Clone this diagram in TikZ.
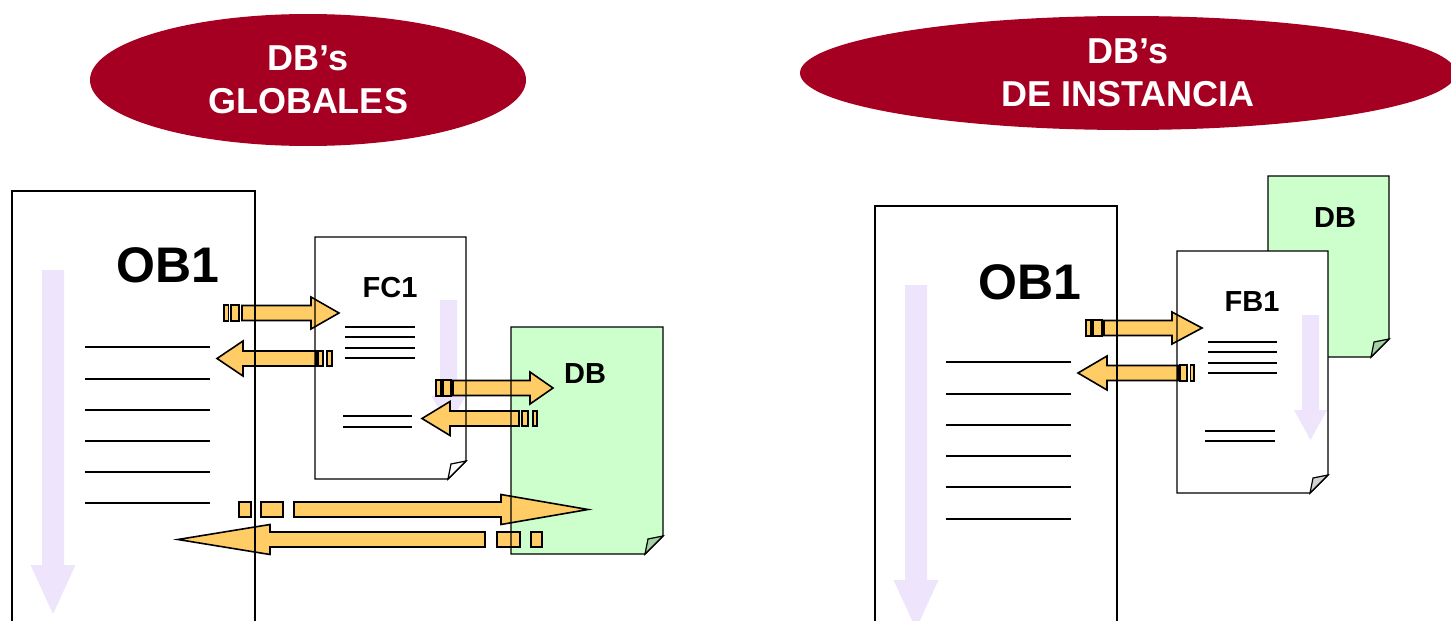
\documentclass[tikz,border=0pt]{standalone}
\usepackage{fontspec}
\setmainfont{Liberation Sans}
\usetikzlibrary{shapes.geometric}

\definecolor{dbred}{HTML}{A50021}
\definecolor{dbgreen}{HTML}{CCFFCC}
\definecolor{curlgreen}{HTML}{A3D3A3}
\definecolor{callorange}{HTML}{FFCC66}
\definecolor{flowlilac}{HTML}{EEE4FC}

% page with a turned-down corner, (x1,y1) top left, (x2,y2) bottom right
\newcommand{\pageshape}[4]{(#1,#2) -- (#3,#2) -- (#3,{#4-18}) -- ({#3-18},#4) -- (#1,#4) -- cycle}
\newcommand{\pagecurl}[3]{\draw[curl,fill=#3] ({#1-18},#2) .. controls ({#1-17},{#2-8}) .. ({#1-15},{#2-15}) -- (#1,{#2-18}) -- cycle;}
% orange call arrow: tail x, head base x, tip x, y, head half width
\newcommand{\callarrow}[5]{\draw[call] (#1,{#4-7.5}) -- (#2,{#4-7.5}) -- (#2,{#4-#5}) -- (#3,#4) -- (#2,{#4+#5}) -- (#2,{#4+7.5}) -- (#1,{#4+7.5}) -- cycle;}
% lilac program flow arrow: x, shaft half, head half, top, head base, tip
\newcommand{\flowarrow}[6]{\fill[flowlilac] ({#1-#2},#4) -- ({#1+#2},#4) -- ({#1+#2},#5) -- ({#1+#3},#5) -- (#1,#6) -- ({#1-#3},#5) -- ({#1-#2},#5) -- cycle;}

\begin{document}
\begin{tikzpicture}[x=1pt, y=-1pt,
  title/.style = {ellipse, fill=dbred, text=white, align=center,
    inner sep=0pt, font=\bfseries\fontsize{36}{43}\selectfont},
  bigname/.style = {font=\bfseries\fontsize{50}{60}\selectfont, inner sep=0pt},
  smallname/.style = {font=\bfseries\fontsize{29}{34}\selectfont, inner sep=0pt},
  outline/.style = {draw=black, line width=1.4},
  curl/.style = {draw=black, line width=1.2},
  call/.style = {draw=black, fill=callorange, line width=1.6},
  textline/.style = {line width=1.5}]
  \clip (0,0) rectangle (1451,621);
  \useasboundingbox (0,0) rectangle (1451,621);

  % titles
  \node[title, minimum width=436, minimum height=132] (global) at (308,80) {DB’s\\GLOBALES};
  \node[title, minimum width=656, minimum height=114] (instance) at (1128,73) {DB’s\\DE INSTANCIA};

  % page backgrounds
  \fill[white] (12,191) rectangle (255,700);
  \fill[white] \pageshape{315}{237}{466}{479};
  \fill[dbgreen] \pageshape{511}{327}{663}{554};
  \fill[white] (875,206) rectangle (1117,700);
  \draw[outline, fill=dbgreen] \pageshape{1268}{176}{1389}{357};
  \pagecurl{1389}{357}{curlgreen}
  \fill[white] \pageshape{1177}{251}{1328}{493};

  % program flow
  \flowarrow{53}{11}{22.5}{270}{565}{614}
  \flowarrow{448.5}{8.5}{17}{300}{396}{426}
  \flowarrow{916}{11}{22.5}{285}{580}{629}
  \flowarrow{1310.5}{8.5}{16.5}{315}{410}{440}

  % labels
  \node[bigname] (ob1l) at (168,265) {OB1};
  \node[smallname] (fc1) at (390,288) {FC1};
  \node[smallname] (dbl) at (585,374) {DB};
  \node[bigname] (ob1r) at (1030,282) {OB1};
  \node[smallname] (fb1) at (1252,302) {FB1};
  \node[smallname] (dbr) at (1335,218) {DB};

  % code lines
  \foreach \y in {347,379,410,441,472,503}
    \draw[textline] (85,\y) -- (210,\y);
  \foreach \y in {327,337,348,358}
    \draw[textline] (345,\y) -- (415,\y);
  \foreach \y in {416,427}
    \draw[textline] (343,\y) -- (412,\y);
  \foreach \y in {362,394,425,456,487,519}
    \draw[textline] (946,\y) -- (1071,\y);
  \foreach \y in {342,352,363,373}
    \draw[textline] (1208,\y) -- (1277,\y);
  \foreach \y in {431,441}
    \draw[textline] (1205,\y) -- (1275,\y);

  % calls OB1 -> FC1 -> DB
  \draw[call] (224,305) rectangle (228.5,321);
  \draw[call] (231,305) rectangle (239,321);
  \callarrow{242}{311}{339}{313}{16}
  \callarrow{316}{243}{217}{358.5}{17.5}
  \draw[call] (318,351) rectangle (323,366);
  \draw[call] (327,351) rectangle (332,366);
  \draw[call] (436,380) rectangle (441,396);
  \draw[call] (443,380) rectangle (451,396);
  \callarrow{453}{530}{553}{388}{16}
  \callarrow{519}{450}{422}{418.5}{17}
  \draw[call] (522,411) rectangle (528,426);
  \draw[call] (533,411) rectangle (537,426);
  % direct access OB1 <-> DB
  \draw[call] (239,502) rectangle (251,517);
  \draw[call] (261,502) rectangle (283,517);
  \callarrow{294}{501}{588}{509.5}{15}
  \callarrow{485}{270}{178}{539.5}{15}
  \draw[call] (497,532) rectangle (520,547);
  \draw[call] (531,532) rectangle (542,547);
  % calls OB1 -> FB1
  \draw[call] (1086,320) rectangle (1091,336);
  \draw[call] (1093,320) rectangle (1102,336);
  \callarrow{1104}{1172}{1202}{328}{16}
  \callarrow{1178}{1107}{1078}{373}{17}
  \draw[call] (1180,365) rectangle (1187,381);
  \draw[call] (1190.5,365) rectangle (1194,381);

  % page outlines on top
  \draw[outline] (12,191) rectangle (255,700);
  \draw[outline] \pageshape{315}{237}{466}{479};
  \pagecurl{466}{479}{white}
  \draw[outline] \pageshape{511}{327}{663}{554};
  \pagecurl{663}{554}{curlgreen}
  \draw[outline] (875,206) rectangle (1117,700);
  \draw[outline] \pageshape{1177}{251}{1328}{493};
  \pagecurl{1328}{493}{gray!35}
\end{tikzpicture}
\end{document}
